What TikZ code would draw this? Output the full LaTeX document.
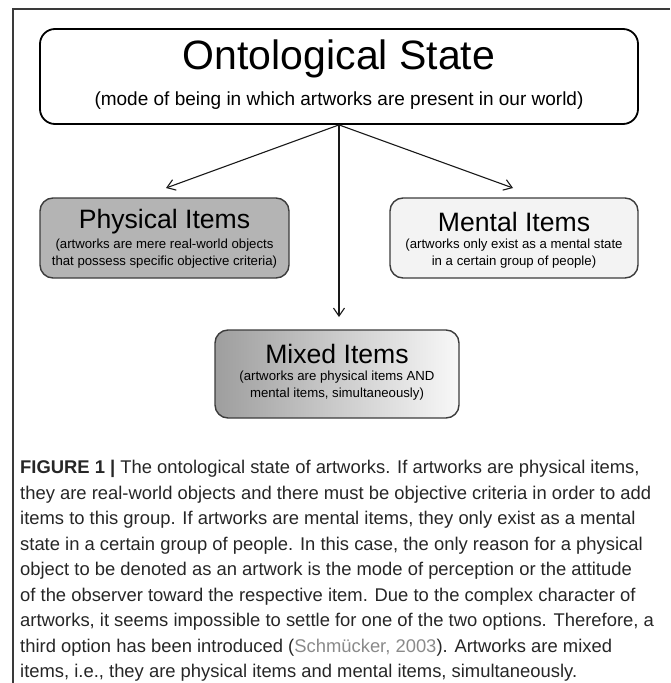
\documentclass[tikz,border=0pt]{standalone}
\usepackage{fontspec}
\setmainfont{Liberation Sans}
\usetikzlibrary{arrows.meta}
\definecolor{framec}{HTML}{3A3A3A}
\definecolor{physfill}{HTML}{B4B4B4}
\definecolor{mentfill}{HTML}{F3F3F3}
\definecolor{mixleft}{HTML}{9E9E9E}
\definecolor{mixright}{HTML}{F8F8F8}
\definecolor{boxline}{HTML}{3C3C3C}
\definecolor{captext}{HTML}{262626}
\definecolor{citec}{HTML}{8A8A8A}
\tikzset{
  bigbox/.style={draw=black, line width=1.8pt, rounded corners=15pt, minimum width=598pt, minimum height=95pt, inner sep=0pt},
  itembox/.style={draw=boxline, line width=1.4pt, rounded corners=13pt, inner sep=0pt},
  bigtitle/.style={font=\fontsize{41}{45}\selectfont, inner sep=0pt},
  bigsub/.style={font=\fontsize{19}{22}\selectfont, inner sep=0pt},
  itemtitle/.style={font=\fontsize{26.6}{28}\selectfont, inner sep=0pt},
  itemsub/.style={font=\fontsize{13.2}{17}\selectfont, align=center, inner sep=0pt},
  conn/.style={draw=black!90, line width=1.1pt, -{Straight Barb[length=8pt,width=11pt,line width=1.1pt]}},
  framel/.style={draw=framec, line width=1.4pt},
  captionstyle/.style={font=\fontsize{18.4}{25.5}\selectfont, text=captext, align=left, inner sep=0pt}
}
\begin{document}
\begin{tikzpicture}[x=1pt,y=-1pt]
\useasboundingbox (0,0) rectangle (670,683);
% frame
\coordinate (fa) at (13,683);
\coordinate (fb) at (13,9);
\coordinate (fc) at (670,9);
\draw[framel] (fa) -- (fb) -- (fc);
% top box
\node[bigbox] (top) at (339,76.5) {};
\node[bigtitle] (toptitle) at (339,59) {Ontological State};
\node[bigsub] (topsub) at (339,101) {(mode of being in which artworks are present in our world)};
% item boxes
\node[itembox, fill=physfill, minimum width=249pt, minimum height=80pt] (phys) at (164.5,238) {};
\node[itemtitle] (phystitle) at (164.5,222) {Physical Items};
\node[itemsub] (physsub) at (164.5,254) {(artworks are mere real-world objects\\that possess specific objective criteria)};
\node[itembox, fill=mentfill, minimum width=248pt, minimum height=80pt] (ment) at (514,238) {};
\node[itemtitle] (menttitle) at (514,222) {Mental Items};
\node[itemsub] (mentsub) at (514,254) {(artworks only exist as a mental state\\in a certain group of people)};
\node[itembox, left color=mixleft, right color=mixright, minimum width=244pt, minimum height=88pt] (mix) at (337,374) {};
\node[itemtitle] (mixtitle) at (337,354) {Mixed Items};
\node[itemsub] (mixsub) at (337,386) {(artworks are physical items AND\\mental items, simultaneously)};
% connectors
\coordinate (tl) at (166,188);
\coordinate (tr) at (513,188);
\coordinate (tm) at (339,317);
\draw[conn] (top.south) -- (tl);
\draw[conn] (top.south) -- (tr);
\draw[conn] (top.south) -- (tm);
% caption
\node[captionstyle, anchor=north west] (cap) at (20,460) {\textbf{FIGURE 1 |} The ontological state of artworks. If artworks are physical items,\\
they are real-world objects and there must be objective criteria in order to add\\
items to this group. If artworks are mental items, they only exist as a mental\\
state in a certain group of people. In this case, the only reason for a physical\\
object to be denoted as an artwork is the mode of perception or the attitude\\
of the observer toward the respective item. Due to the complex character of\\
artworks, it seems impossible to settle for one of the two options. Therefore, a\\
third option has been introduced ({\color{citec}Schmücker, 2003}). Artworks are mixed\\
items, i.e., they are physical items and mental items, simultaneously.};
\end{tikzpicture}
\end{document}
